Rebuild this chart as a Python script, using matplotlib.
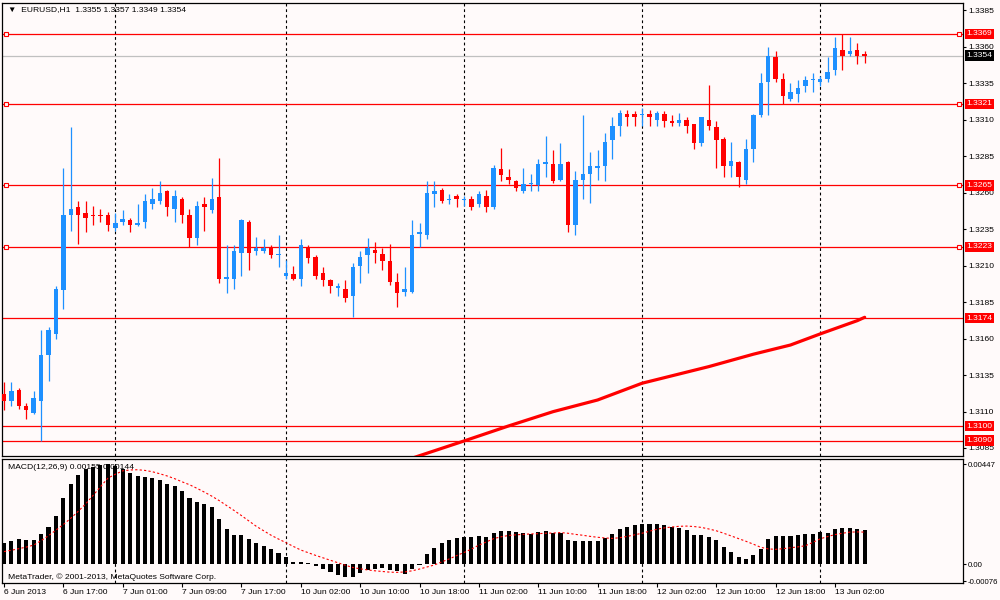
import numpy as np
import pandas as pd
import matplotlib
matplotlib.use("Agg")
import matplotlib.pyplot as plt
import matplotlib.transforms as mtransforms

plt.rcParams['font.family'] = ['Liberation Sans', 'DejaVu Sans']

# trading sessions (start, number of H1 bars)
sessions = [("2013-06-06 09:00", 15), ("2013-06-07 00:00", 23), ("2013-06-10 00:00", 24),
            ("2013-06-11 00:00", 24), ("2013-06-12 00:00", 24), ("2013-06-13 00:00", 7)]

# EURUSD H1 candles
opens = [1.3122, 1.3117, 1.3125, 1.3114, 1.3109, 1.3117, 1.3149, 1.3163, 1.3193, 1.3245,
         1.3250, 1.3246, 1.3245, 1.3245, 1.3245, 1.3236, 1.3240, 1.3241, 1.3238, 1.3240,
         1.3252, 1.3254, 1.3261, 1.3249, 1.3256, 1.3245, 1.3229, 1.3252, 1.3248, 1.3257,
         1.3201, 1.3201, 1.3219, 1.3240, 1.3220, 1.3220, 1.3223, 1.3217, 1.3203, 1.3204,
         1.3201, 1.3223, 1.3216, 1.3205, 1.3200, 1.3195, 1.3194, 1.3189, 1.3210, 1.3217,
         1.3221, 1.3218, 1.3213, 1.3199, 1.3192, 1.3192, 1.3232, 1.3231, 1.3259, 1.3262,
         1.3255, 1.3258, 1.3255, 1.3256, 1.3252, 1.3258, 1.3250, 1.3276, 1.3271, 1.3268,
         1.3261, 1.3266, 1.3265, 1.3280, 1.3280, 1.3269, 1.3281, 1.3238, 1.3269, 1.3273,
         1.3277, 1.3278, 1.3296, 1.3306, 1.3314, 1.3314, 1.3313, 1.3314, 1.3310, 1.3314,
         1.3309, 1.3308, 1.3310, 1.3307, 1.3294, 1.3310, 1.3305, 1.3297, 1.3278, 1.3281,
         1.3269, 1.3290, 1.3313, 1.3336, 1.3353, 1.3338, 1.3324, 1.3328, 1.3333, 1.3337,
         1.3336, 1.3338, 1.3344, 1.3358, 1.3355, 1.3358, 1.3355]
highs = [1.3130, 1.3130, 1.3126, 1.3116, 1.3124, 1.3166, 1.3168, 1.3196, 1.3277, 1.3305,
         1.3254, 1.3254, 1.3251, 1.3249, 1.3247, 1.3246, 1.3248, 1.3243, 1.3252, 1.3259,
         1.3263, 1.3268, 1.3262, 1.3262, 1.3257, 1.3249, 1.3254, 1.3257, 1.3270, 1.3284,
         1.3224, 1.3224, 1.3242, 1.3241, 1.3230, 1.3228, 1.3224, 1.3231, 1.3214, 1.3210,
         1.3228, 1.3224, 1.3217, 1.3209, 1.3201, 1.3198, 1.3200, 1.3212, 1.3220, 1.3229,
         1.3226, 1.3222, 1.3225, 1.3205, 1.3209, 1.3241, 1.3239, 1.3268, 1.3268, 1.3263,
         1.3259, 1.3259, 1.3258, 1.3258, 1.3261, 1.3262, 1.3279, 1.3291, 1.3276, 1.3269,
         1.3277, 1.3273, 1.3283, 1.3299, 1.3289, 1.3294, 1.3282, 1.3275, 1.3313, 1.3288,
         1.3289, 1.3301, 1.3312, 1.3317, 1.3317, 1.3316, 1.3318, 1.3317, 1.3316, 1.3316,
         1.3313, 1.3315, 1.3312, 1.3307, 1.3312, 1.3334, 1.3309, 1.3298, 1.3295, 1.3282,
         1.3297, 1.3314, 1.3342, 1.3360, 1.3357, 1.3342, 1.3335, 1.3337, 1.3340, 1.3342,
         1.3340, 1.3353, 1.3367, 1.3369, 1.3367, 1.3363, 1.3357]
lows = [1.3111, 1.3114, 1.3112, 1.3105, 1.3108, 1.3090, 1.3131, 1.3160, 1.3180, 1.3234,
        1.3225, 1.3233, 1.3238, 1.3240, 1.3234, 1.3234, 1.3238, 1.3233, 1.3237, 1.3236,
        1.3249, 1.3252, 1.3244, 1.3240, 1.3239, 1.3223, 1.3224, 1.3234, 1.3246, 1.3198,
        1.3191, 1.3194, 1.3203, 1.3207, 1.3217, 1.3219, 1.3215, 1.3209, 1.3201, 1.3200,
        1.3196, 1.3212, 1.3201, 1.3196, 1.3191, 1.3189, 1.3185, 1.3175, 1.3198, 1.3205,
        1.3212, 1.3207, 1.3197, 1.3182, 1.3189, 1.3191, 1.3223, 1.3228, 1.3250, 1.3253,
        1.3252, 1.3250, 1.3251, 1.3248, 1.3250, 1.3247, 1.3249, 1.3268, 1.3266, 1.3261,
        1.3260, 1.3261, 1.3261, 1.3271, 1.3267, 1.3268, 1.3233, 1.3231, 1.3256, 1.3253,
        1.3269, 1.3268, 1.3283, 1.3299, 1.3306, 1.3306, 1.3306, 1.3306, 1.3306, 1.3305,
        1.3306, 1.3306, 1.3301, 1.3290, 1.3292, 1.3303, 1.3277, 1.3271, 1.3271, 1.3264,
        1.3266, 1.3281, 1.3312, 1.3313, 1.3336, 1.3321, 1.3323, 1.3322, 1.3329, 1.3329,
        1.3333, 1.3336, 1.3341, 1.3344, 1.3354, 1.3348, 1.3349]
closes = [1.3117, 1.3124, 1.3114, 1.3111, 1.3119, 1.3149, 1.3166, 1.3194, 1.3245, 1.3249,
          1.3245, 1.3243, 1.3244, 1.3244, 1.3238, 1.3239, 1.3242, 1.3238, 1.3239, 1.3254,
          1.3256, 1.3260, 1.3250, 1.3258, 1.3245, 1.3229, 1.3251, 1.3250, 1.3256, 1.3201,
          1.3202, 1.3220, 1.3241, 1.3219, 1.3222, 1.3222, 1.3217, 1.3218, 1.3205, 1.3201,
          1.3224, 1.3215, 1.3203, 1.3200, 1.3196, 1.3196, 1.3188, 1.3209, 1.3216, 1.3222,
          1.3219, 1.3213, 1.3199, 1.3191, 1.3194, 1.3231, 1.3233, 1.3260, 1.3261, 1.3254,
          1.3256, 1.3256, 1.3255, 1.3250, 1.3259, 1.3250, 1.3277, 1.3272, 1.3269, 1.3263,
          1.3266, 1.3267, 1.3280, 1.3281, 1.3268, 1.3280, 1.3238, 1.3269, 1.3273, 1.3278,
          1.3278, 1.3295, 1.3306, 1.3315, 1.3312, 1.3312, 1.3314, 1.3312, 1.3315, 1.3309,
          1.3308, 1.3310, 1.3306, 1.3294, 1.3312, 1.3306, 1.3296, 1.3278, 1.3282, 1.3271,
          1.3290, 1.3313, 1.3335, 1.3354, 1.3338, 1.3326, 1.3329, 1.3332, 1.3337, 1.3337,
          1.3338, 1.3343, 1.3359, 1.3354, 1.3357, 1.3354, 1.3354]

# MACD(12,26,9): main (histogram) and signal
macd_main = [0.00094, 0.00106, 0.00112, 0.00107, 0.00107, 0.00136, 0.00168, 0.00216, 0.00295, 0.00358,
             0.00399, 0.00425, 0.00437, 0.00444, 0.00447, 0.00440, 0.00426, 0.00410, 0.00395, 0.00389,
             0.00384, 0.00375, 0.00359, 0.00352, 0.00328, 0.00295, 0.00280, 0.00270, 0.00256, 0.00203,
             0.00156, 0.00131, 0.00131, 0.00112, 0.00094, 0.00082, 0.00067, 0.00052, 0.00031, 0.00012,
             0.00012, 0.00004, -0.00007, -0.00021, -0.00033, -0.00048, -0.00058, -0.00055, -0.00040, -0.00025,
             -0.00021, -0.00018, -0.00025, -0.00028, -0.00043, -0.00021, -0.00003, 0.00045, 0.00072, 0.00094,
             0.00107, 0.00116, 0.00121, 0.00124, 0.00127, 0.00124, 0.00139, 0.00149, 0.00149, 0.00143,
             0.00139, 0.00134, 0.00145, 0.00149, 0.00142, 0.00142, 0.00109, 0.00103, 0.00103, 0.00103,
             0.00104, 0.00116, 0.00136, 0.00156, 0.00168, 0.00176, 0.00180, 0.00180, 0.00180, 0.00174,
             0.00168, 0.00164, 0.00153, 0.00131, 0.00131, 0.00124, 0.00109, 0.00076, 0.00057, 0.00033,
             0.00024, 0.00040, 0.00069, 0.00112, 0.00127, 0.00127, 0.00127, 0.00131, 0.00136, 0.00136,
             0.00145, 0.00140, 0.00156, 0.00161, 0.00164, 0.00160, 0.00155]
macd_signal = [0.00057, 0.00063, 0.00070, 0.00077, 0.00086, 0.00106, 0.00128, 0.00153, 0.00178, 0.00206,
               0.00237, 0.00270, 0.00308, 0.00347, 0.00385, 0.00403, 0.00418, 0.00422, 0.00423, 0.00420,
               0.00414, 0.00405, 0.00395, 0.00383, 0.00369, 0.00356, 0.00340, 0.00323, 0.00305, 0.00285,
               0.00263, 0.00241, 0.00218, 0.00194, 0.00170, 0.00150, 0.00130, 0.00113, 0.00097, 0.00080,
               0.00064, 0.00052, 0.00040, 0.00029, 0.00018, 0.00007, -0.00004, -0.00014, -0.00020, -0.00025,
               -0.00029, -0.00032, -0.00035, -0.00036, -0.00034, -0.00029, -0.00021, -0.00012, -0.00003, 0.00011,
               0.00024, 0.00039, 0.00053, 0.00068, 0.00086, 0.00100, 0.00115, 0.00123, 0.00129, 0.00132,
               0.00134, 0.00136, 0.00137, 0.00139, 0.00140, 0.00142, 0.00139, 0.00134, 0.00130, 0.00125,
               0.00121, 0.00118, 0.00116, 0.00119, 0.00125, 0.00132, 0.00139, 0.00148, 0.00157, 0.00163,
               0.00167, 0.00170, 0.00171, 0.00169, 0.00165, 0.00158, 0.00150, 0.00139, 0.00127, 0.00115,
               0.00103, 0.00090, 0.00076, 0.00069, 0.00067, 0.00070, 0.00074, 0.00078, 0.00083, 0.00098,
               0.00114, 0.00124, 0.00133, 0.00139, 0.00144, 0.00145, 0.00144]

# moving average (bar number, value)
ma_bars = [55, 56, 62, 68, 74, 80, 86, 89, 95, 101, 106, 110, 115, 116]
ma_vals = [1.3078, 1.30797, 1.30898, 1.31001, 1.31099, 1.31179, 1.31294, 1.31332, 1.31408,
           1.31493, 1.31556, 1.31632, 1.31723, 1.31746]

levels = [1.3369, 1.3321, 1.3265, 1.3223, 1.3174, 1.3100, 1.3090]
levels_marked = [1.3369, 1.3321, 1.3265, 1.3223]
bid = 1.3354
price_ticks = [1.3385, 1.3360, 1.3335, 1.3310, 1.3285, 1.3260, 1.3235, 1.3210, 1.3185,
               1.3160, 1.3135, 1.3110, 1.3085]
macd_ticks = [0.00447, 0.0, -0.00076]
macd_tick_labels = ["0.00447", "0.00", "-0.00076"]

times = pd.DatetimeIndex(np.concatenate(
    [pd.date_range(s, periods=n, freq="h").values for s, n in sessions]))
n = len(times)
x = np.arange(n)
o = np.array(opens); h = np.array(highs); l = np.array(lows); c = np.array(closes)

BG = '#fffafa'
BULL = '#1e90ff'
BEAR = '#ff0000'
FS = 6.1

fig = plt.figure(figsize=(10, 6), dpi=100, facecolor=BG)
ax = fig.add_axes([0.002, 0.24, 0.961, 0.755], facecolor=BG)
axm = fig.add_axes([0.002, 0.0283, 0.961, 0.2067], facecolor=BG, sharex=ax)

# candles
up = c >= o
cols = np.where(up, BULL, BEAR)
ax.vlines(x, l, h, colors=cols, linewidth=0.9, zorder=3)
body = np.maximum(np.abs(c - o), 0.00007)
ax.bar(x, body, bottom=np.minimum(o, c), width=0.6, color=cols, linewidth=0, zorder=4)

# moving average
ax.plot(ma_bars, ma_vals, color='#ff0000', linewidth=2.3, zorder=5, solid_capstyle='round')

# horizontal levels
trans = mtransforms.blended_transform_factory(ax.transAxes, ax.transData)
ax.axhline(bid, color='#c0c0c0', linewidth=0.9, zorder=2)
for lv in levels:
    ax.axhline(lv, color='#ff0000', linewidth=0.9, zorder=2)
    ax.annotate(f"{lv:.4f}", xy=(1.0, lv), xycoords=trans, xytext=(2.5, 0),
                textcoords='offset points', ha='left', va='center', fontsize=FS,
                color='white', annotation_clip=False, zorder=10,
                bbox=dict(boxstyle='square,pad=0.2', fc='#ff0000', ec='none'))
for lv in levels_marked:
    ax.plot([0.004, 0.996], [lv, lv], 's', transform=trans, ms=3.3, mfc=BG,
            mec='#ff0000', mew=0.8, zorder=6, clip_on=False)
ax.annotate(f"{bid:.4f}", xy=(1.0, bid), xycoords=trans, xytext=(2.5, 0),
            textcoords='offset points', ha='left', va='center', fontsize=FS,
            color='white', annotation_clip=False, zorder=10,
            bbox=dict(boxstyle='square,pad=0.2', fc='black', ec='none'))

# MACD panel
axm.bar(x, macd_main, width=0.55, color='black', linewidth=0, zorder=3)
axm.plot(x, macd_signal, color='#ff0000', linewidth=0.8, linestyle=(0, (2, 2)), zorder=4)

# day separators
day_starts = [i for i in range(1, n) if times[i].date() != times[i - 1].date()]
for a in (ax, axm):
    for d in day_starts:
        a.axvline(d, color='black', linewidth=0.8, linestyle=(0, (2.5, 2.5)), zorder=1)

ax.set_xlim(-0.27, 129.25)
ax.set_ylim(1.30795, 1.33901)
axm.set_ylim(-0.000836, 0.00471)

for a in (ax, axm):
    a.yaxis.tick_right()
    a.tick_params(axis='y', direction='out', length=2.5, width=0.8, labelsize=FS, pad=1.5,
                  colors='black')
    for s in a.spines.values():
        s.set_linewidth(0.9)
        s.set_color('black')
axm.tick_params(axis='y', labelsize=5.6, pad=1)

ax.set_yticks(price_ticks)
ax.set_yticklabels([f"{t:.4f}" for t in price_ticks])
ax.tick_params(axis='x', bottom=False, labelbottom=False)

axm.set_yticks(macd_ticks)
axm.set_yticklabels(macd_tick_labels)

tick_idx = list(range(0, n, 8))
tick_lab = []
for i in tick_idx:
    t = times[i]
    if i == 0:
        tick_lab.append(f"{t.day} {t:%b %Y}")
    else:
        tick_lab.append(f"{t.day} {t:%b %H:%M}")
axm.set_xticks(tick_idx)
axm.set_xticklabels(tick_lab, ha='left')
axm.tick_params(axis='x', direction='out', length=3, width=0.8, labelsize=FS, pad=1.5)

# texts
ax.text(0.006, 0.985, "\u25bc  EURUSD,H1  1.3355 1.3357 1.3349 1.3354", transform=ax.transAxes,
        fontsize=FS, va='center', ha='left', color='black')
axm.text(0.006, 1 - 8 / 124, f"MACD(12,26,9) {macd_main[-1]:.5f} {macd_signal[-1]:.5f}",
         transform=axm.transAxes, fontsize=FS, va='center', ha='left', color='black')
axm.text(0.006, 6 / 124, "MetaTrader, \u00a9 2001-2013, MetaQuotes Software Corp.",
         transform=axm.transAxes, fontsize=FS, va='center', ha='left', color='black')

fig.savefig("out.png", dpi=100, facecolor=BG)
